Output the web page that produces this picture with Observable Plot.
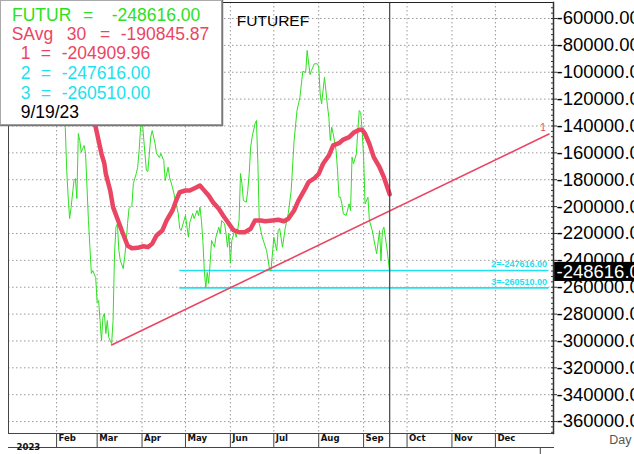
<!DOCTYPE html>
<html><head><meta charset="utf-8">
<script src="https://cdn.jsdelivr.net/npm/d3@7"></script>
<script src="https://cdn.jsdelivr.net/npm/@observablehq/plot@0.6"></script>
<style>
body{margin:0;background:#fff;}
#wrap{position:relative;width:634px;height:454px;overflow:hidden;}
#wrap svg{display:block;}
#legend{position:absolute;left:0;top:0;}
</style></head><body><div id="wrap"></div>
<script>
// ---------- data ----------
const title = "FUTUREF";
const futurDates = ["2023-01-03","2023-01-05","2023-01-09","2023-01-11","2023-01-13","2023-01-17","2023-01-19","2023-01-23","2023-01-25","2023-01-27","2023-01-31","2023-02-02","2023-02-06",
"2023-02-07","2023-02-08","2023-02-09","2023-02-10","2023-02-11","2023-02-13","2023-02-14","2023-02-15","2023-02-16","2023-02-17","2023-02-18","2023-02-20","2023-02-21","2023-02-22","2023-02-23","2023-02-24","2023-02-25","2023-02-26","2023-02-28",
"2023-03-01","2023-03-02","2023-03-03","2023-03-04","2023-03-05","2023-03-06","2023-03-07","2023-03-08","2023-03-09","2023-03-11","2023-03-12","2023-03-13","2023-03-14","2023-03-15","2023-03-16","2023-03-17","2023-03-19","2023-03-20","2023-03-21","2023-03-22","2023-03-23","2023-03-25","2023-03-26","2023-03-28","2023-03-29","2023-03-30","2023-03-31",
"2023-04-01","2023-04-03","2023-04-04","2023-04-05","2023-04-07","2023-04-08","2023-04-10","2023-04-11","2023-04-13","2023-04-14","2023-04-16","2023-04-17","2023-04-19","2023-04-20","2023-04-22","2023-04-23","2023-04-26","2023-04-27","2023-04-28","2023-04-30",
"2023-05-01","2023-05-03","2023-05-04","2023-05-06","2023-05-07","2023-05-09","2023-05-10","2023-05-11","2023-05-12","2023-05-13","2023-05-14","2023-05-15","2023-05-16","2023-05-17","2023-05-18","2023-05-19","2023-05-21","2023-05-22","2023-05-24","2023-05-25","2023-05-26","2023-05-28","2023-05-29","2023-05-30","2023-05-31",
"2023-06-01","2023-06-02","2023-06-04","2023-06-05","2023-06-06","2023-06-07","2023-06-08","2023-06-09","2023-06-10","2023-06-12","2023-06-13","2023-06-14","2023-06-15","2023-06-16","2023-06-18","2023-06-19","2023-06-20","2023-06-21","2023-06-23","2023-06-26","2023-06-28","2023-06-29",
"2023-07-01","2023-07-03","2023-07-04","2023-07-05","2023-07-07","2023-07-09","2023-07-11","2023-07-13","2023-07-15","2023-07-17","2023-07-19","2023-07-21","2023-07-23","2023-07-24","2023-07-26","2023-07-27","2023-07-29","2023-07-31",
"2023-08-01","2023-08-02","2023-08-03","2023-08-05","2023-08-07","2023-08-08","2023-08-09","2023-08-10","2023-08-11","2023-08-13","2023-08-14","2023-08-15","2023-08-16","2023-08-17","2023-08-18","2023-08-20","2023-08-22","2023-08-23","2023-08-24","2023-08-25","2023-08-27","2023-08-28","2023-08-29","2023-08-30","2023-08-31",
"2023-09-01","2023-09-02","2023-09-04","2023-09-05","2023-09-07","2023-09-08","2023-09-10","2023-09-12","2023-09-13","2023-09-14","2023-09-15","2023-09-17","2023-09-19"];
const futurValues = [-118000,-108000,-96000,-104000,-92000,-100000,-112000,-98000,-106000,-118000,-110000,-122000,-128000,
-141100,-173100,-193000,-208900,-200700,-180600,-179100,-194000,-145600,-150800,-159500,-154500,-160500,-185600,-210300,-230200,-249800,-247600,-252800,
-271200,-269900,-284800,-299700,-282300,-279600,-294500,-284800,-297400,-302000,-284800,-234900,-215300,-212800,-232700,-240100,-246100,-237700,-227500,-212600,-201400,-199200,-182800,-175400,-170700,-158200,-141100,
-134000,-160500,-173100,-173900,-148300,-143400,-153000,-160500,-163500,-160500,-165700,-180600,-170700,-178100,-185600,-190300,-205100,-216300,-217800,-210300,
-206600,-222800,-211800,-205100,-208900,-202900,-206600,-200400,-210300,-225200,-247600,-260500,-249000,-257200,-242400,-225200,-230200,-222800,-215300,-220300,-210300,-212800,-220000,-230200,-220300,
-242000,-225200,-217800,-222800,-217800,-210300,-175400,-182800,-195500,-196700,-188000,-175400,-155800,-148300,-138400,-135900,-167900,-212600,-222800,-232700,-246300,-248000,
-222800,-232700,-217800,-216300,-230200,-215300,-205100,-188000,-150800,-128500,-118800,-99300,-100200,-83800,-101700,-98700,-93700,-93700,
-95700,-116000,-123500,-103700,-124800,-133500,-150800,-140900,-145800,-158200,-173100,-193000,-193000,-197900,-205400,-206600,-197900,-202900,-163200,-168100,-160700,-143400,-128500,-130000,-143400,
-163200,-197900,-193000,-210300,-217800,-223700,-235100,-217800,-240100,-217800,-215300,-230200,-248616];

const savgDates = ["2023-02-10","2023-02-15","2023-02-21","2023-02-25","2023-02-28","2023-03-02","2023-03-04","2023-03-06","2023-03-07","2023-03-10","2023-03-12","2023-03-15","2023-03-18","2023-03-22","2023-03-25","2023-03-29",
"2023-04-02","2023-04-05","2023-04-08","2023-04-11","2023-04-15","2023-04-18","2023-04-22","2023-04-25","2023-04-27","2023-05-01","2023-05-04","2023-05-08","2023-05-11","2023-05-13","2023-05-17","2023-05-20","2023-05-24","2023-05-27","2023-05-31",
"2023-06-03","2023-06-07","2023-06-11","2023-06-15","2023-06-18","2023-06-22","2023-06-25","2023-06-30","2023-07-04","2023-07-08","2023-07-11","2023-07-15","2023-07-18","2023-07-22","2023-07-25","2023-07-29",
"2023-08-01","2023-08-04","2023-08-08","2023-08-11","2023-08-15","2023-08-18","2023-08-22","2023-08-25","2023-08-29","2023-08-31","2023-09-02","2023-09-05","2023-09-08","2023-09-12","2023-09-15","2023-09-19"];
const savgValues = [-108000,-115000,-124000,-133000,-140900,-150800,-160700,-168100,-175600,-188000,-200400,-209100,-217800,-229000,-231000,-230700,
-229500,-230200,-227700,-221500,-217800,-210300,-202900,-194200,-189300,-188000,-188000,-186000,-184300,-186800,-191700,-196700,-201600,-206600,-212800,
-217300,-219100,-219100,-216500,-210300,-210300,-210900,-210300,-209800,-210900,-209100,-202900,-195500,-188000,-181800,-178900,
-175600,-168100,-162000,-154500,-152800,-150100,-148300,-145100,-142800,-142800,-145800,-153300,-163200,-170700,-178100,-190845.87];

const trendDates = ["2023-03-11","2024-01-07"];
const trendValues = [-303000,-146000];
const trendName = "1";

const levelNames = ["2","3"];
const levelValues = [-247616.00,-260510.00];
const levelStart = "2023-04-27";
const levelEnd = "2024-01-07";

const legendNames = ["FUTUR","SAvg","1","2","3"];
const legendPeriods = ["","30","","",""];
const legendValues = [-248616.00,-190845.87,-204909.96,-247616.00,-260510.00];
const cursorDate = "2023-09-19";
const cursorLabel = "9/19/23";
const yearLabel = "2023";
const xUnitLabel = "Day";

// ---------- styling ----------
const GREEN = "#2ee021", RED = "#ea4663", CYAN = "#20e2ef";
const FONT = '"Liberation Sans", Arial, Helvetica, sans-serif';
const NARROW = '"Liberation Sans Narrow","Arial Narrow","DejaVu Sans Condensed",sans-serif';

const parse = d3.utcParse("%Y-%m-%d");
const futur = futurDates.map((d,i)=>({date:parse(d), value:futurValues[i]}));
const savg = savgDates.map((d,i)=>({date:parse(d), value:savgValues[i]}));
const trend = trendDates.map((d,i)=>({date:parse(d), value:trendValues[i]}));
const levels = levelNames.map((n,i)=>({name:n, value:levelValues[i], x1:parse(levelStart), x2:parse(levelEnd)}));
const cursor = parse(cursorDate);
const last = futur[futur.length-1];

const xDomain = [new Date(Date.UTC(2022,11,29,19)), new Date(Date.UTC(2024,0,10,3))];
const yDomain = [-368880, -48090];
const months = d3.utcMonths(new Date(Date.UTC(2023,1,1)), new Date(Date.UTC(2023,11,2)));
const yearStart = new Date(Date.UTC(2024,0,1));
const majorTicks = d3.range(-360000, -59999, 20000);
const minorTicks = d3.range(-368000, -48000, 4000);
const fmt = v => v.toFixed(2);
const DAY = 86400000;

const chart = Plot.plot({
  width: 634, height: 454,
  marginTop: 2, marginLeft: 8, marginRight: 81, marginBottom: 21,
  style: {fontFamily: FONT, background: "white", overflow: "visible"},
  x: {type: "utc", domain: xDomain, axis: null, label: null},
  y: {domain: yDomain, axis: null, label: null},
  marks: [
    Plot.gridY(majorTicks, {stroke: "#999", strokeOpacity: 1, strokeDasharray: "1.5,2.5"}),
    Plot.gridX(months, {stroke: "#999", strokeOpacity: 1, strokeDasharray: "1.5,2.5"}),
    Plot.ruleY(levels, {y: "value", x1: "x1", x2: "x2", stroke: CYAN, strokeWidth: 1.6}),
    Plot.line(futur, {x: "date", y: "value", stroke: GREEN, strokeWidth: 1}),
    Plot.line(trend, {x: "date", y: "value", stroke: RED, strokeWidth: 1.6}),
    Plot.line(savg, {x: "date", y: "value", stroke: RED, strokeWidth: 4.5, curve: "linear"}),
    Plot.ruleX([cursor], {stroke: "#444", strokeWidth: 1.2, insetBottom: -14}),
    Plot.text(levels, {x: "x2", y: "value", text: d => d.name + "=" + fmt(d.value), textAnchor: "end", dx: -2, dy: -6, fill: CYAN, fontSize: 9, fontWeight: "bold", fontFamily: FONT}),
    Plot.text([trend[1]], {x: "date", y: "value", text: () => trendName, dx: -6, dy: -6, fill: RED, fontSize: 10, fontFamily: FONT}),
    Plot.text([title], {frameAnchor: "top", dx: -8, dy: 12, text: d => d, fontSize: 15.5, fill: "#000", fontFamily: FONT}),
    // frame / chrome
    Plot.frame({anchor: "top", stroke: "#222"}),
    Plot.frame({anchor: "left", stroke: "#444"}),
    Plot.frame({anchor: "bottom", stroke: "#444"}),
    Plot.frame({anchor: "bottom", stroke: "#444", dy: 14}),
    Plot.frame({anchor: "right", stroke: "#333", strokeWidth: 1.5}),
    // month band
    Plot.ruleX(months, {y1: yDomain[0], y2: yDomain[0], insetBottom: -14, stroke: "#444"}),
    Plot.text(months, {x: d => d, frameAnchor: "bottom", dy: 7, dx: 2, textAnchor: "start", text: d3.utcFormat("%b"), fontSize: 9.5, fontWeight: "bold", fontFamily: NARROW, fill: "#111"}),
    Plot.ruleX([yearStart], {y1: yDomain[0], y2: yDomain[0], insetTop: 15, insetBottom: -21, stroke: "#444"}),
    Plot.text([yearLabel], {frameAnchor: "bottom-left", dx: 8, dy: 16, text: d => d, textAnchor: "start", fontSize: 9.5, fontWeight: "bold", fontFamily: NARROW, fill: "#111"}),
    Plot.text([xUnitLabel], {frameAnchor: "bottom-right", dx: 78, dy: 10, text: d => d, textAnchor: "end", fontSize: 12.5, fill: "#555", fontFamily: FONT}),
    // right axis
    Plot.axisY(minorTicks, {anchor: "right", label: null, tickSize: -3, tickFormat: () => "", stroke: "#333"}),
    Plot.axisY(majorTicks, {anchor: "right", label: null, tickSize: 3, tickFormat: () => "", stroke: "#333"}),
    Plot.axisY(majorTicks, {anchor: "right", label: null, tickSize: 0, tickPadding: 3, tickFormat: fmt, fontSize: 18.5, fontFamily: FONT, fill: "#000"}),
    Plot.rect([last], {x1: () => new Date(xDomain[1].getTime() + 0.8*DAY), x2: () => new Date(xDomain[1].getTime() + 80*DAY), y1: d => d.value - 7100, y2: d => d.value + 7100, fill: "#000"}),
    Plot.text([last], {y: "value", frameAnchor: "right", dx: 3, textAnchor: "start", text: d => fmt(d.value), fill: "#fff", fontSize: 18.5, fontFamily: FONT})
  ]
});
document.getElementById("wrap").appendChild(chart);

// ---------- legend overlay ----------
const legendColors = [GREEN, RED, RED, CYAN, CYAN];
const rowBase = [20.7, 39.5, 59.3, 79.2, 98.7];
const rowX = [[12, null, 83, 111.7],[11.7, 66.7, 100, 120.7],[20.7, null, 40.7, 61.7],[20.7, null, 40.7, 61.7],[20.7, null, 40.7, 61.7]];
const lg = d3.select("#wrap").append("svg").attr("id","legend").attr("width",224).attr("height",127)
  .style("font-family", FONT).style("font-size","17.5px");
lg.append("rect").attr("x",0.5).attr("y",0.5).attr("width",221).attr("height",124).attr("fill","#fff").attr("stroke","#aaa");
lg.append("line").attr("x1",222.5).attr("x2",222.5).attr("y1",0).attr("y2",126).attr("stroke","#777").attr("stroke-width",1.5);
lg.append("line").attr("x1",0).attr("x2",223).attr("y1",125.5).attr("y2",125.5).attr("stroke","#777").attr("stroke-width",1.5);
legendNames.forEach((n,i) => {
  const g = lg.append("g").attr("fill", legendColors[i]);
  const xs = rowX[i];
  g.append("text").attr("x", xs[0]).attr("y", rowBase[i]).text(n);
  if (legendPeriods[i]) g.append("text").attr("x", xs[1]).attr("y", rowBase[i]).text(legendPeriods[i]);
  g.append("text").attr("x", xs[2]).attr("y", rowBase[i]).text("=");
  g.append("text").attr("x", xs[3]).attr("y", rowBase[i]).text(fmt(legendValues[i]));
});
lg.append("text").attr("x",20.7).attr("y",118.3).attr("fill","#000").text(cursorLabel);
</script></body></html>
